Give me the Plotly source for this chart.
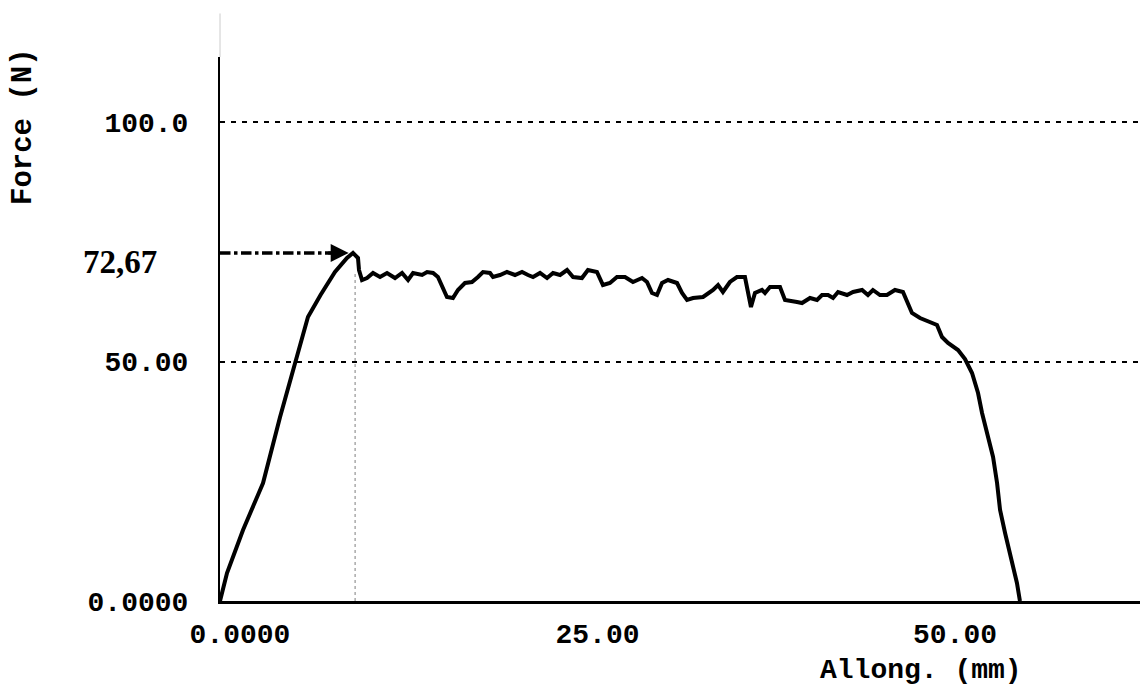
import plotly.graph_objects as go

# Force-elongation curve
allong_mm = [0, 0.49, 1.61, 3.01, 4.20, 5.24, 6.15, 7.03, 8.04, 8.88, 9.30, 9.65, 9.72, 9.93,
             10.28, 10.70, 11.19, 11.68, 12.24, 12.73, 13.15, 13.50, 14.13, 14.48, 14.90, 15.24,
             15.52, 15.87, 16.29, 16.64, 17.13, 17.62, 18.04, 18.39, 18.88, 19.09, 19.58, 20.07,
             20.63, 21.12, 21.54, 21.89, 22.38, 22.87, 23.29, 23.78, 24.27, 24.69, 25.31, 25.73,
             26.36, 26.78, 27.27, 27.76, 28.32, 28.88, 29.51, 29.86, 30.21, 30.56, 30.91, 31.33,
             31.96, 32.31, 32.66, 33.08, 33.78, 34.48, 34.83, 35.17, 35.66, 36.15, 36.71, 36.92,
             37.13, 37.41, 37.90, 38.11, 38.46, 39.16, 39.51, 40.35, 40.70, 41.26, 41.75, 42.10,
             42.52, 42.87, 43.22, 43.85, 44.27, 44.90, 45.31, 45.66, 46.15, 46.64, 47.20, 47.76,
             48.11, 48.39, 48.95, 49.65, 50.14, 50.49, 50.91, 51.61, 52.10, 52.59, 53.01, 53.29,
             53.64, 54.06, 54.34, 54.55, 54.90, 55.38, 55.73, 55.94]
force_n = [0, 5.85, 14.82, 24.63, 38.41, 49.69, 59.29, 63.88, 68.68, 71.61, 72.67, 71.61, 69.10, 67.01,
           67.43, 68.48, 67.64, 68.48, 67.43, 68.48, 67.01, 68.48, 68.06, 68.68, 68.48, 67.64,
           65.55, 63.47, 63.26, 64.93, 66.39, 66.60, 67.64, 68.68, 68.48, 67.64, 68.06, 68.68,
           68.06, 68.68, 68.06, 67.64, 68.48, 67.43, 68.48, 68.06, 69.10, 67.64, 67.43, 69.10,
           68.68, 65.97, 66.39, 67.64, 67.64, 66.60, 67.43, 66.60, 64.30, 63.88, 66.39, 67.01,
           66.39, 64.30, 62.84, 63.26, 63.47, 64.93, 65.97, 64.51, 66.60, 67.64, 67.64, 64.93,
           61.38, 64.30, 64.93, 64.30, 65.55, 65.55, 62.84, 62.42, 62.21, 63.26, 62.84, 63.88,
           63.88, 63.26, 64.51, 63.88, 64.51, 64.93, 63.88, 64.93, 63.88, 63.88, 64.93, 64.51,
           62.21, 60.13, 59.08, 58.25, 57.62, 55.11, 53.86, 52.40, 50.52, 47.60, 43.42, 39.25,
           35.07, 30.06, 24.63, 19.00, 14.20, 7.93, 3.76, 0]

peak_force = 72.67
peak_allong = 9.30
peak_label = "72,67"

x_tickvals = [0, 25, 50]
x_ticktext = ["0.0000", "25.00", "50.00"]
y_tickvals = [0, 50, 100]
y_ticktext = ["0.0000", "50.00", "100.0"]

x_title = "Allong. (mm)"
y_title = "Force (N)"

mono = dict(family="Liberation Mono, Courier New, monospace", size=28, color="black", weight="bold")

fig = go.Figure()

fig.add_trace(go.Scatter(
    x=allong_mm, y=force_n, mode="lines",
    line=dict(color="black", width=4, shape="linear"),
    hoverinfo="skip", showlegend=False,
))

# dash-dot arrow to the max force
fig.add_shape(type="line", xref="x", yref="y", x0=0, x1=peak_allong - 0.9,
              y0=peak_force, y1=peak_force,
              line=dict(color="black", width=3.5, dash="dashdot"))
fig.add_annotation(x=peak_allong - 0.3, y=peak_force, xref="x", yref="y",
                   ax=-22, ay=0, text="", showarrow=True,
                   arrowhead=2, arrowsize=1.2, arrowwidth=3, arrowcolor="black")
# faint vertical dotted line below the peak
fig.add_shape(type="line", xref="x", yref="y", x0=peak_allong + 0.15, x1=peak_allong + 0.15,
              y0=0, y1=peak_force - 4,
              line=dict(color="#aaaaaa", width=1.5, dash="dot"))
# faint extension of the y axis above the plot
fig.add_shape(type="line", xref="paper", yref="paper", x0=0, x1=0, y0=1, y1=1.08,
              line=dict(color="#cccccc", width=1))

fig.add_annotation(x=-0.109, y=peak_force, xref="paper", yref="y", yshift=-9,
                   text=peak_label, showarrow=False, xanchor="center",
                   font=dict(family="Liberation Serif, Times New Roman, serif", size=33,
                             color="black", weight="bold"))

fig.add_annotation(x=(921 - 220) / 920, y=(601 - 670) / 544, xref="paper", yref="paper",
                   text=x_title, showarrow=False, xanchor="center", yanchor="middle",
                   font=mono)
fig.add_annotation(x=(23 - 220) / 920, y=(601 - 127) / 544, xref="paper", yref="paper",
                   text=y_title, showarrow=False, xanchor="center", yanchor="middle",
                   textangle=-90, font=dict(mono, size=29))

fig.update_layout(
    width=1140, height=691,
    margin=dict(l=220, r=0, t=57, b=90),
    paper_bgcolor="white", plot_bgcolor="white",
    xaxis=dict(range=[0, 920 / 14.3], tickvals=x_tickvals, ticktext=x_ticktext,
               showgrid=False, zeroline=False, showline=True, linecolor="black", linewidth=2.5,
               ticks="", ticklabelshift=20, ticklabelstandoff=6, tickfont=mono),
    yaxis=dict(range=[0, 544 / 4.79], tickvals=y_tickvals, ticktext=y_ticktext,
               showgrid=True, gridcolor="black", gridwidth=1.5, griddash="5px,6px",
               zeroline=False, showline=True, linecolor="black", linewidth=2,
               ticks="", ticklabelstandoff=24, tickfont=mono),
)

fig.write_html("out.html")
